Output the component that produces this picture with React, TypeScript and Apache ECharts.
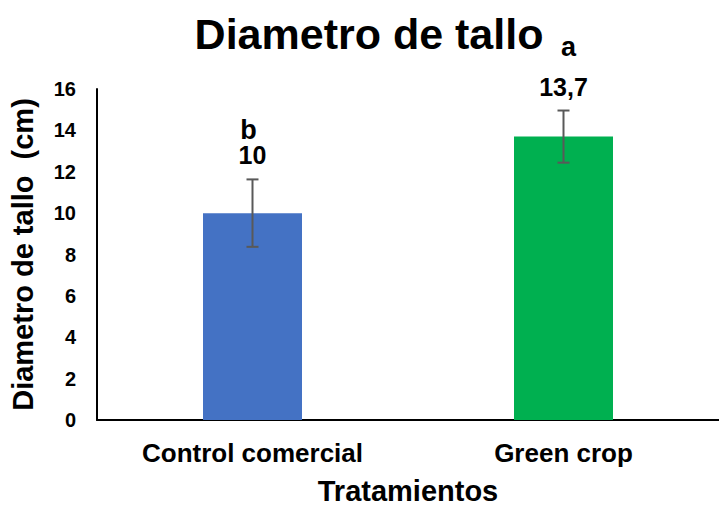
import React, { useEffect, useRef } from "react";
import * as echarts from "echarts";

const categories = ["Control comercial", "Green crop"];
const values = [10, 13.7];
const errors = [1.63, 1.26];
const valueLabels = ["10", "13,7"];
const letters = ["b", "a"];
const barColors = ["#4472C4", "#00B050"];
const yTicks = { min: 0, max: 16, interval: 2 };

const FONT = "'Liberation Sans', Arial, sans-serif";
const letterOffsets = [25, 40];

export default function App() {
  const ref = useRef<HTMLDivElement>(null);
  useEffect(() => {
    if (!ref.current) return;
    const chart = echarts.init(ref.current, null, { renderer: "svg" });
    chart.setOption({
      animation: false,
      backgroundColor: "#ffffff",
      title: {
        text: "Diametro de tallo",
        left: 364,
        textAlign: "center",
        top: 7,
        textStyle: { fontFamily: FONT, fontSize: 43, fontWeight: "bold", color: "#000" },
      },
      grid: { left: 96, top: 89, width: 628, height: 336, containLabel: false },
      xAxis: {
        type: "category",
        data: categories,
        name: "Tratamientos",
        nameLocation: "middle",
        nameGap: 56,
        nameTextStyle: { fontFamily: FONT, fontSize: 29, fontWeight: "bold", color: "#000" },
        axisLine: { lineStyle: { color: "#000", width: 2 } },
        axisTick: { show: false },
        axisLabel: { fontFamily: FONT, fontSize: 26, fontWeight: "bold", color: "#000", margin: 20 },
      },
      yAxis: {
        type: "value",
        min: yTicks.min,
        max: yTicks.max,
        interval: yTicks.interval,
        name: "Diametro de tallo  (cm)",
        nameLocation: "middle",
        nameGap: 60,
        nameRotate: 90,
        nameTextStyle: { fontFamily: FONT, fontSize: 29, fontWeight: "bold", color: "#000" },
        axisLine: { show: true, lineStyle: { color: "#000", width: 2 } },
        axisTick: { show: false },
        splitLine: { show: false },
        axisLabel: { fontFamily: FONT, fontSize: 20, fontWeight: "bold", color: "#000", margin: 21 },
      },
      series: [
        {
          type: "bar",
          barWidth: 99,
          data: values.map((v, i) => ({ value: v, itemStyle: { color: barColors[i] } })),
        },
        {
          type: "custom",
          clip: false,
          z: 10,
          data: values.map((v, i) => [i, v, errors[i]]),
          renderItem: (params: any, api: any) => {
            const i = api.value(0);
            const v = api.value(1);
            const e = api.value(2);
            const top = api.coord([i, v + e]);
            const bot = api.coord([i, v - e]);
            const cap = 6;
            const st = { stroke: "#595959", lineWidth: 2 };
            return {
              type: "group",
              children: [
                { type: "line", shape: { x1: top[0], y1: top[1], x2: bot[0], y2: bot[1] }, style: st },
                { type: "line", shape: { x1: top[0] - cap, y1: top[1], x2: top[0] + cap, y2: top[1] }, style: st },
                { type: "line", shape: { x1: bot[0] - cap, y1: bot[1], x2: bot[0] + cap, y2: bot[1] }, style: st },
                {
                  type: "text",
                  x: top[0],
                  y: top[1] - 24,
                  style: {
                    text: valueLabels[i],
                    fontFamily: FONT,
                    fontSize: 25,
                    fontWeight: "bold",
                    fill: "#000",
                    align: "center",
                    verticalAlign: "middle",
                  },
                },
                {
                  type: "text",
                  x: top[0] + (i === 1 ? 5 : -4),
                  y: top[1] - 24 - letterOffsets[i],
                  style: {
                    text: letters[i],
                    fontFamily: FONT,
                    fontSize: 27,
                    fontWeight: "bold",
                    fill: "#000",
                    align: "center",
                    verticalAlign: "middle",
                  },
                },
              ],
            };
          },
        },
      ],
    });
    return () => chart.dispose();
  }, []);
  return <div ref={ref} style={{ width: 719, height: 510, position: "absolute", left: 0, top: 0 }} />;
}
